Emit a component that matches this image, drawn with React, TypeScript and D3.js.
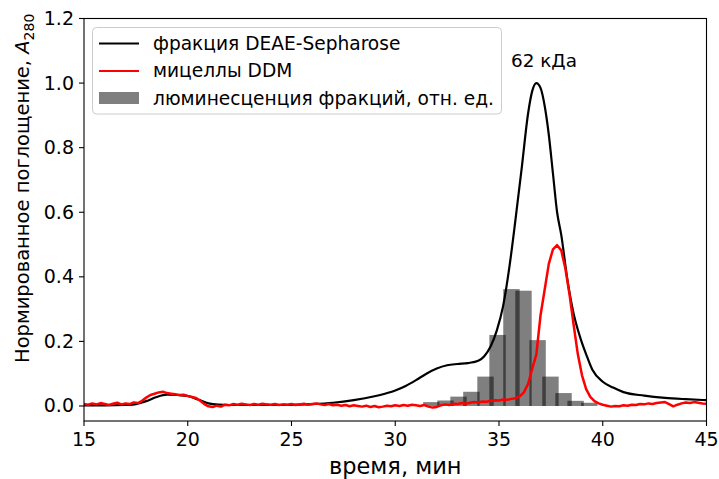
import React from "react";
import * as d3 from "d3";

const blackT = [15, 16, 17, 17.5, 18, 18.5, 19, 19.5, 20, 20.5, 21, 21.5, 22, 24, 26, 27, 28, 29, 29.5, 30, 30.5, 31, 31.5, 32, 32.5, 33, 33.5, 34, 34.3, 34.6, 34.9, 35.2, 35.5, 35.8, 36.1, 36.4, 36.6, 36.8, 37.0, 37.2, 37.4, 37.6, 37.8, 38.0, 38.3, 38.6, 38.9, 39.2, 39.5, 40, 40.5, 41, 42, 43, 44, 45];
const blackV = [0.002, 0.002, 0.003, 0.006, 0.015, 0.028, 0.035, 0.034, 0.031, 0.02, 0.008, 0.004, 0.003, 0.003, 0.006, 0.01, 0.018, 0.03, 0.038, 0.048, 0.062, 0.08, 0.1, 0.116, 0.126, 0.13, 0.133, 0.14, 0.155, 0.185, 0.235, 0.31, 0.43, 0.58, 0.74, 0.905, 0.975, 1.0, 0.985, 0.93, 0.84, 0.72, 0.6, 0.53, 0.39, 0.285, 0.215, 0.16, 0.112, 0.075, 0.057, 0.043, 0.032, 0.025, 0.021, 0.018];

const redT0 = 15;
const redStep = 0.2;
const redV = [
  0.006, 0.004, 0.008, 0.005, 0.009, 0.006, 0.003, 0.007, 0.010, 0.005,
  0.008, 0.006, 0.011, 0.009, 0.016, 0.026, 0.034, 0.038, 0.042, 0.044,
  0.040, 0.038, 0.036, 0.034, 0.035, 0.031, 0.028, 0.025, 0.016, 0.006,
  -0.001, -0.003, 0.001, -0.002, 0.004, 0.002, 0.006, 0.004, 0.007, 0.005,
  0.003, 0.006, 0.004, 0.007, 0.005, 0.004, 0.006, 0.003, 0.005, 0.004,
  0.006, 0.003, 0.005, 0.007, 0.004, 0.006, 0.008, 0.005, 0.003, 0.006,
  0.002, 0.004, 0.001, 0.003, -0.001, 0.002, 0.000, -0.002, 0.001, -0.003,
  0.000, -0.004, -0.002, 0.001, -0.001, 0.002, 0.000, 0.003, 0.001, 0.004,
  0.002, 0.000, 0.003, -0.002, -0.005, -0.003, 0.002, 0.005, 0.003, 0.007,
  0.006, 0.009, 0.007, 0.010, 0.012, 0.011, 0.014, 0.013, 0.016, 0.018,
  0.017, 0.020, 0.019, 0.022, 0.024, 0.030, 0.042, 0.068, 0.115, 0.16,
  0.28, 0.36, 0.44, 0.485, 0.498, 0.482, 0.425, 0.345, 0.25, 0.16,
  0.095, 0.052, 0.028, 0.015, 0.008, 0.004, 0.001, -0.002, 0.000, -0.001,
  0.002, 0.001, 0.004, 0.003, 0.006, 0.005, 0.008, 0.006, 0.009, 0.011,
  0.012, 0.006, -0.001, 0.004, 0.008, 0.011, 0.009, 0.012, 0.010, 0.008,
  0.007,
];

const barT = [31.74, 32.42, 33.05, 33.67, 34.35, 34.93, 35.6, 36.18, 36.86, 37.48, 38.11, 38.69, 39.35];
const barV = [0.012, 0.017, 0.029, 0.044, 0.091, 0.22, 0.362, 0.357, 0.204, 0.091, 0.04, 0.016, 0.01];
const barWidth = 0.79;

const xTicks = [15, 20, 25, 30, 35, 40, 45];
const yTicks = [0.0, 0.2, 0.4, 0.6, 0.8, 1.0, 1.2];

const legendLabels = ["фракция DEAE-Sepharose", "мицеллы DDM", "люминесценция фракций, отн. ед."];

export default function App() {
  const W = 719, H = 479;
  const left = 84, right = 706.5, top = 18.5, bottom = 421;
  const x = d3.scaleLinear().domain([15, 45]).range([left, right]);
  const y = d3.scaleLinear().domain([-0.0465, 1.2]).range([bottom, top]);
  const font = "'DejaVu Sans', sans-serif";

  const blackData = blackT.map((t, i) => [t, blackV[i]] as [number, number]);
  const redData = redV.map((v, i) => [redT0 + i * redStep, v] as [number, number]);
  const smooth = d3.line<[number, number]>().x(d => x(d[0])).y(d => y(d[1])).curve(d3.curveMonotoneX);
  const jag = d3.line<[number, number]>().x(d => x(d[0])).y(d => y(d[1]));

  const bw = x(barWidth) - x(0);

  return (
    <svg width={W} height={H} style={{ position: "absolute", left: 0, top: 0 }} fontFamily={font}>
      <rect width={W} height={H} fill="white" />
      <defs>
        <clipPath id="plot">
          <rect x={left} y={top} width={right - left} height={bottom - top} />
        </clipPath>
      </defs>
      <g clipPath="url(#plot)">
        {barT.map((t, i) => (
          <rect key={i} x={x(t) - bw / 2} y={y(barV[i])} width={bw} height={y(0) - y(barV[i])} fill="black" fillOpacity={0.5} />
        ))}
        <path d={smooth(blackData) || ""} fill="none" stroke="black" strokeWidth={2.2} />
        <path d={jag(redData) || ""} fill="none" stroke="red" strokeWidth={2.5} strokeLinejoin="round" />
      </g>
      <rect x={left} y={top} width={right - left} height={bottom - top} fill="none" stroke="black" strokeWidth={1.1} />
      {xTicks.map(t => (
        <g key={t}>
          <line x1={x(t)} x2={x(t)} y1={bottom} y2={bottom + 5} stroke="black" strokeWidth={1.1} />
          <text x={x(t)} y={bottom + 25} textAnchor="middle" fontSize={19}>{t}</text>
        </g>
      ))}
      {yTicks.map(t => (
        <g key={t}>
          <line x1={left - 5} x2={left} y1={y(t)} y2={y(t)} stroke="black" strokeWidth={1.1} />
          <text x={left - 10} y={y(t) + 6.5} textAnchor="end" fontSize={19}>{t.toFixed(1)}</text>
        </g>
      ))}
      <text x={(left + right) / 2} y={474} textAnchor="middle" fontSize={22.5}>время, мин</text>
      <text transform={`translate(29, 363) rotate(-90)`} textAnchor="start" fontSize={19.5}>
        Нормированное поглощение, <tspan fontStyle="italic">A</tspan>
        <tspan fontSize={14} dy={5}>280</tspan>
      </text>
      <text x={544} y={67} textAnchor="middle" fontSize={18.4}>62 кДа</text>
      <g>
        <rect x={92.5} y={27.5} width={409} height={86.5} rx={4} fill="white" fillOpacity={0.8} stroke="#cccccc" strokeWidth={1} />
        <line x1={99} x2={139} y1={43.5} y2={43.5} stroke="black" strokeWidth={2.2} />
        <line x1={99} x2={139} y1={71} y2={71} stroke="red" strokeWidth={2.2} />
        <rect x={99} y={92} width={40} height={12} fill="black" fillOpacity={0.5} />
        {legendLabels.map((l, i) => (
          <text key={i} x={153} y={49.5 + i * 27.7} fontSize={18.6}>{l}</text>
        ))}
      </g>
    </svg>
  );
}
